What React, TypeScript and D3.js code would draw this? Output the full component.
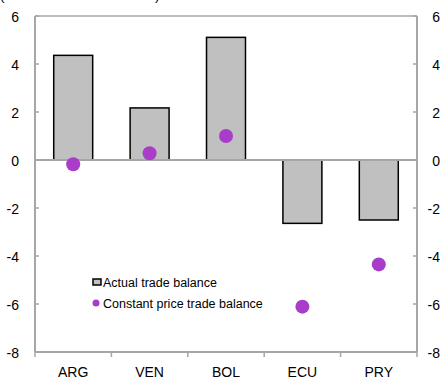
import React from "react";
import * as d3 from "d3";

const categories = ["ARG", "VEN", "BOL", "ECU", "PRY"];
const actualBalance = [4.36, 2.17, 5.11, -2.64, -2.5];
const constantBalance = [-0.18, 0.28, 1.0, -6.11, -4.35];
const yTicks = [6, 4, 2, 0, -2, -4, -6, -8];
const title = "(Percent of GDP 2000–08)";
const legendLabels = ["Actual trade balance", "Constant price trade balance"];

const W = 446;
const H = 382;
const M = { left: 35, right: 417, top: 16, bottom: 352 };
const GRAY = "#a6a6a6";
const PURPLE = "#a93cc8";
const FONT = "'Liberation Sans', Arial, sans-serif";

export default function App() {
  const x = d3.scaleBand<string>().domain(categories).range([M.left, M.right]).padding(0);
  const y = d3.scaleLinear().domain([-8, 6]).range([M.bottom, M.top]);
  const bw = x.bandwidth() * 0.51;
  const boundaries = d3.range(categories.length + 1).map((i) => M.left + i * x.step());

  return (
    <svg
      width={W}
      height={H}
      style={{ position: "absolute", left: 0, top: 0, fontFamily: FONT }}
    >
      <rect x={0} y={0} width={W} height={H} fill="#fff" />
      <text x={0} y={-0.5} fontSize={13.5} fill="#000">{title}</text>

      {/* bars */}
      {categories.map((c, i) => {
        const v = actualBalance[i];
        const cx = (x(c) as number) + x.bandwidth() / 2;
        return (
          <rect
            key={c}
            x={cx - bw / 2}
            y={y(Math.max(0, v))}
            width={bw}
            height={Math.abs(y(v) - y(0))}
            fill="#c0c0c0"
            stroke="#000"
            strokeWidth={1.5}
          />
        );
      })}

      {/* frame */}
      <line x1={M.left} x2={M.right} y1={M.top} y2={M.top} stroke={GRAY} strokeWidth={1.5} />
      <line x1={M.left} x2={M.left} y1={M.top} y2={M.bottom} stroke={GRAY} strokeWidth={2} />
      <line x1={M.right} x2={M.right} y1={M.top} y2={M.bottom} stroke={GRAY} strokeWidth={2} />
      <line x1={M.left} x2={M.right} y1={M.bottom} y2={M.bottom} stroke={GRAY} strokeWidth={2} />
      <line x1={M.left} x2={M.right} y1={y(0)} y2={y(0)} stroke={GRAY} strokeWidth={2} />

      {/* y ticks */}
      {yTicks.map((t) => (
        <g key={t}>
          <line x1={M.left} x2={M.left + 4} y1={y(t)} y2={y(t)} stroke={GRAY} strokeWidth={1.5} />
          <line x1={M.right - 4} x2={M.right} y1={y(t)} y2={y(t)} stroke={GRAY} strokeWidth={1.5} />
          <text x={19} y={y(t) + 6} fontSize={14} textAnchor="end" fill="#000">{t}</text>
          <text x={440} y={y(t) + 6} fontSize={14} textAnchor="end" fill="#000">{t}</text>
        </g>
      ))}

      {/* x ticks */}
      {boundaries.map((b, i) => (
        <line key={i} x1={b} x2={b} y1={M.bottom} y2={M.bottom + 5} stroke={GRAY} strokeWidth={1.5} />
      ))}
      {categories.map((c) => (
        <text
          key={c}
          x={(x(c) as number) + x.bandwidth() / 2}
          y={377}
          fontSize={14}
          textAnchor="middle"
          fill="#000"
        >
          {c}
        </text>
      ))}

      {/* dots */}
      {categories.map((c, i) => (
        <circle
          key={c}
          cx={(x(c) as number) + x.bandwidth() / 2}
          cy={y(constantBalance[i])}
          r={7}
          fill={PURPLE}
        />
      ))}

      {/* legend */}
      <rect x={93} y={279} width={8} height={6} fill="#c0c0c0" stroke="#000" strokeWidth={1.5} />
      <text x={103} y={287} fontSize={12.5} fill="#000">{legendLabels[0]}</text>
      <circle cx={96} cy={303} r={3.5} fill={PURPLE} />
      <text x={103} y={308} fontSize={12.5} fill="#000">{legendLabels[1]}</text>
    </svg>
  );
}
